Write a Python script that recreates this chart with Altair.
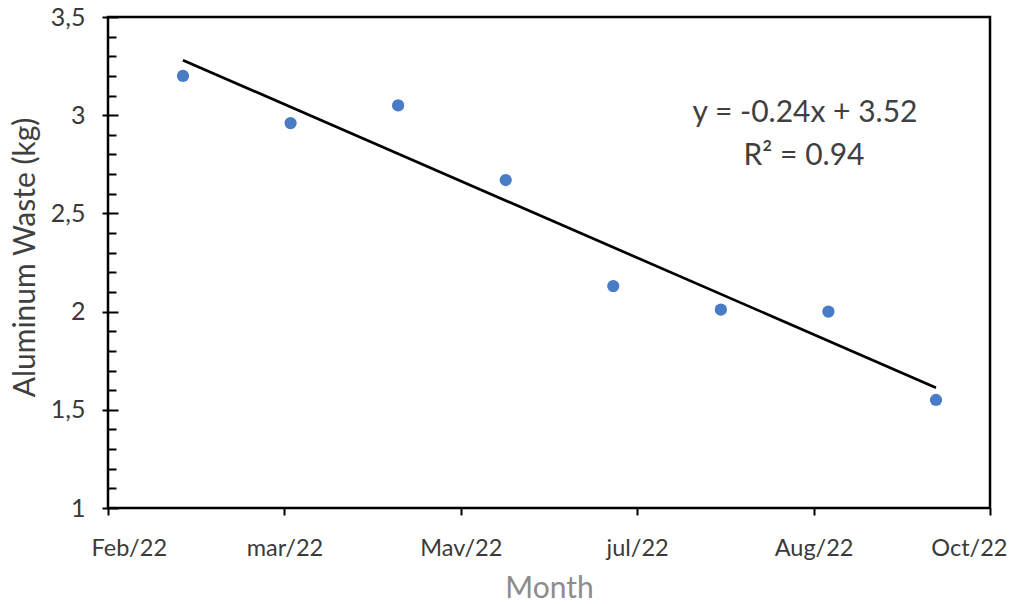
import altair as alt
import pandas as pd

# ---- data ----
month_index = [1, 2, 3, 4, 5, 6, 7, 8]
waste_kg = [3.20, 2.96, 3.05, 2.67, 2.13, 2.01, 2.00, 1.55]

x_tick_values = [0.303, 1.943, 3.583, 5.222, 6.862, 8.502]
x_tick_labels = ["Feb/22", "mar/22", "Mav/22", "jul/22", "Aug/22", "Oct/22"]

y_major = [1, 1.5, 2, 2.5, 3, 3.5]
y_minor = [1.1, 1.2, 1.3, 1.4, 1.6, 1.7, 1.8, 1.9, 2.1, 2.2, 2.3, 2.4,
           2.6, 2.7, 2.8, 2.9, 3.1, 3.2, 3.3, 3.4]

equation_text = "y = -0.24x + 3.52"
r2_text = "R\u00b2 = 0.94"

FONT = "Lato"
LABEL_COLOR = "#3a3a3a"

df = pd.DataFrame({"month": month_index, "waste": waste_kg})

x_label_expr = "[{}][indexof([{}], datum.value)]".format(
    ",".join("'%s'" % s for s in x_tick_labels),
    ",".join(str(v) for v in x_tick_values),
)

x_scale = alt.Scale(domain=[x_tick_values[0], x_tick_values[-1]], nice=False, zero=False)
y_scale = alt.Scale(domain=[y_major[0], y_major[-1]], nice=False, zero=False)

x_axis = alt.Axis(values=x_tick_values, labelExpr=x_label_expr,
                  title="Month", titleColor="#8c8c8c", titleFontSize=30,
                  titleFont=FONT, titleFontWeight="normal",
                  titleY=80, titleBaseline="middle",
                  labelFont=FONT, labelFontSize=23.5, labelColor=LABEL_COLOR,
                  labelFlush=True, labelFlushOffset=17,
                  labelPadding=21, tickSize=7, tickWidth=2, tickColor="black",
                  domain=False, grid=False)

points = alt.Chart(df).mark_circle(size=150, opacity=1, color="#4a7bc6").encode(
    x=alt.X("month:Q", scale=x_scale, axis=x_axis, title="Month"),
    y=alt.Y("waste:Q", scale=y_scale,
            axis=alt.Axis(values=y_major, orient="left", offset=-10,
                          labelExpr="replace(format(datum.value, '~g'), '.', ',')",
                          title="Aluminum Waste (kg)", titleColor="#404040",
                          titleFontSize=30, titleFont=FONT, titleFontWeight="normal",
                          titleX=-93, titleY=240, titleBaseline="middle",
                          titleAngle=270, titleAlign="center",
                          labelFont=FONT, labelFontSize=25, labelColor=LABEL_COLOR,
                          labelPadding=17, tickSize=16, tickWidth=2, tickColor="black",
                          domain=False, grid=False)),
)

trend = alt.Chart(df).transform_regression(
    "month", "waste", extent=[month_index[0], month_index[-1]]
).mark_line(color="black", strokeWidth=2.7).encode(
    x=alt.X("month:Q", scale=x_scale, axis=x_axis, title="Month"),
    y=alt.Y("waste:Q", scale=y_scale,
            axis=alt.Axis(values=y_minor, orient="left", offset=-8, labels=False,
                          title=None, tickSize=8, tickWidth=2, tickColor="black",
                          domain=False, grid=False)),
)

eq = alt.Chart(pd.DataFrame({"t": [equation_text]})).mark_text(
    font=FONT, fontSize=30, color="#404040", align="center", baseline="middle"
).encode(x=alt.value(697), y=alt.value(96), text="t:N")

r2 = alt.Chart(pd.DataFrame({"t": [r2_text]})).mark_text(
    font=FONT, fontSize=30, color="#404040", align="center", baseline="middle"
).encode(x=alt.value(696), y=alt.value(139), text="t:N")

chart = alt.layer(trend, points, eq, r2).resolve_axis(y="independent").properties(
    width=882, height=491,
    autosize=alt.AutoSizeParams(type="none"),
    padding={"left": 108, "top": 17, "right": 32, "bottom": 96},
    background="white",
).configure_view(stroke="black", strokeWidth=2.5)

chart.save("out.html", embed_options={"renderer": "svg", "actions": False})
